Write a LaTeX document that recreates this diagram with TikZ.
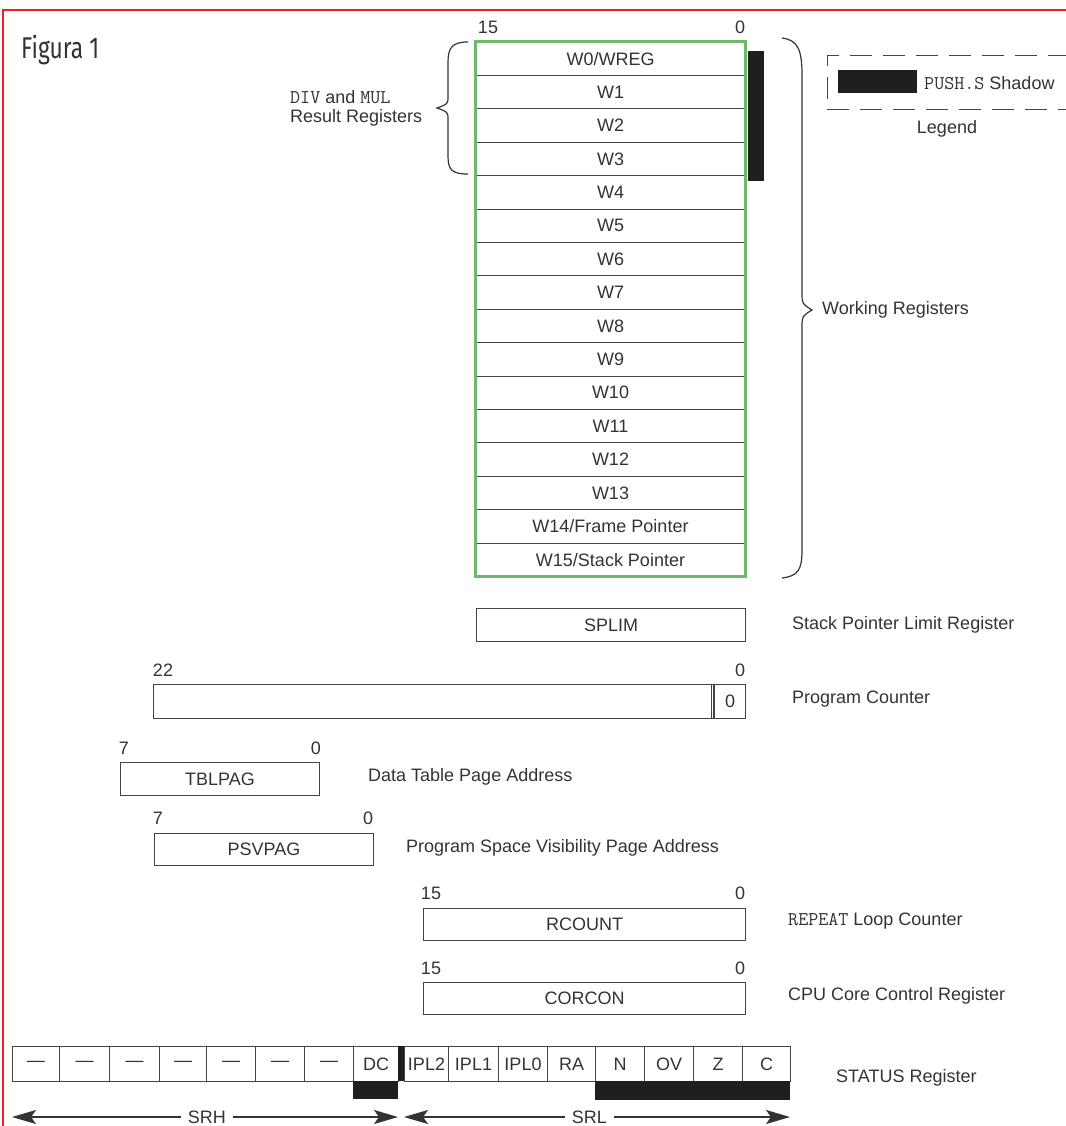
\documentclass[tikz,border=0pt]{standalone}
\usepackage{fontspec}
\usepackage{graphicx}
\setmainfont{Liberation Sans}
\newfontfamily\monof{Latin Modern Mono}
\newfontfamily\figf{Fira Sans}
\usetikzlibrary{arrows.meta}
\definecolor{ink}{HTML}{333333}
\definecolor{lineink}{HTML}{444444}
\definecolor{framered}{HTML}{E8232A}
\definecolor{wgreen}{HTML}{6DB86D}
\newcommand{\mtxt}[1]{{\monof\fontsize{19.5}{20}\selectfont #1}}
\begin{document}
\begin{tikzpicture}[x=1pt,y=-1pt,
  font=\fontsize{18}{20}\selectfont, text=ink,
  regbox/.style={draw=lineink, line width=1.1pt, minimum height=33pt, inner sep=0pt, anchor=north west},
  wrow/.style={draw=lineink, line width=1pt, minimum width=269pt, minimum height=33.4pt, inner sep=0pt},
  cell/.style={draw=lineink, line width=1pt, minimum height=35pt, inner sep=0pt, anchor=north west},
  num/.style={inner sep=0pt},
  lbl/.style={anchor=west, inner sep=0pt},
  arr/.style={line width=1.1pt, draw=ink, {Stealth[length=24pt,width=14pt,inset=5pt]}-{Stealth[length=24pt,width=14pt,inset=5pt]}},
  brace/.style={line width=1.2pt, draw=ink}
]
\useasboundingbox (0,0) rectangle (1065,1126);
% red frame
\draw[framered, line width=2.5pt] (3,1126) -- (3,10) -- (1066,10);
% title
\node[lbl] (title) at (21,50) {\figf\fontsize{30}{30}\selectfont\scalebox{0.76}[1]{Figura 1}};

% working registers
\foreach \t [count=\i from 0] in {W0/WREG,W1,W2,W3,W4,W5,W6,W7,W8,W9,W10,W11,W12,W13,W14/Frame Pointer,W15/Stack Pointer}{
  \node[wrow] (w\i) at (610.5,{42+33.4*(\i+0.5)}) {\t};
}
\draw[wgreen, line width=3pt] (w0.north west) rectangle (w15.south east);
\node[num] (wb15) at (488,27) {15};
\node[num] (wb0) at (740,27) {0};
% shadow bar
\fill[black!88] (748,51) rectangle (764,181);

% left brace
\draw[brace] (468,42) .. controls (452,42) and (448,48) .. (448,62) -- (448,96)
  .. controls (448,104) .. (437,108) .. controls (448,112) .. (448,120) -- (448,156)
  .. controls (448,170) and (452,174) .. (468,174);
\node[lbl, align=left] (divmul) at (290,108) {\mtxt{DIV} and \mtxt{MUL}\\[-1pt]Result Registers};

% right brace
\draw[brace] (782,38) .. controls (798,40) and (802,50) .. (802,75) -- (802,292)
  .. controls (802,304) .. (812,310) .. controls (802,316) .. (802,328) -- (802,550)
  .. controls (802,570) and (798,576) .. (782,578);
\node[lbl] (working) at (822,310) {Working Registers};

% legend
\draw[lineink, line width=1pt, dash pattern=on 22pt off 11pt] (1070,56) -- (827,56) -- (827,110) -- (1070,110);
\fill[black!88] (838,70) rectangle (917,93);
\node[lbl] (legtxt) at (924,83) {\mtxt{PUSH.S} Shadow};
\node[num] (legend) at (947,129) {Legend};

% SPLIM
\node[regbox, minimum width=269pt] (splim) at (476,608) {SPLIM};
\node[lbl] (splimt) at (792,625) {Stack Pointer Limit Register};

% Program counter
\node[regbox, minimum width=560pt, minimum height=34pt] (pc) at (153,684) {};
\node[regbox, minimum width=31pt, minimum height=34pt] (pc0) at (714,684) {0};
\draw[lineink, line width=1pt] (711.5,684) -- (711.5,718);
\node[num] (pcb22) at (163,670) {22};
\node[num] (pcb0) at (740,670) {0};
\node[lbl] (pct) at (792,699) {Program Counter};

% TBLPAG
\node[regbox, minimum width=199pt] (tbl) at (120,762) {TBLPAG};
\node[num] (tblb7) at (124,748) {7};
\node[num] (tblb0) at (316,748) {0};
\node[lbl] (tblt) at (368,777) {Data Table Page Address};

% PSVPAG
\node[regbox, minimum width=219pt, minimum height=32pt] (psv) at (154,833) {PSVPAG};
\node[num] (psvb7) at (158,818) {7};
\node[num] (psvb0) at (368,818) {0};
\node[lbl] (psvt) at (406,848) {Program Space Visibility Page Address};

% RCOUNT
\node[regbox, minimum width=322pt, minimum height=32pt] (rc) at (423,908) {RCOUNT};
\node[num] (rcb15) at (431,893) {15};
\node[num] (rcb0) at (740,893) {0};
\node[lbl] (rct) at (788,921) {\mtxt{REPEAT} Loop Counter};

% CORCON
\node[regbox, minimum width=322pt, minimum height=32pt] (cc) at (423,982) {CORCON};
\node[num] (ccb15) at (431,968) {15};
\node[num] (ccb0) at (740,968) {0};
\node[lbl] (cct) at (788,996) {CPU Core Control Register};

% STATUS register
\foreach \a/\b/\t [count=\i] in {12/59/—,59/109/—,109/159/—,159/206/—,206/255/—,255/304/—,304/353/—,353/398/DC,404/448/IPL2,448/498/IPL1,498/547/IPL0,547/595/RA,595/644/N,644/693/OV,693/742/Z,742/790/C}{
  \node[cell, minimum width={(\b-\a)*1pt}] (s\i) at (\a,1046) {\t};
}
\fill[black!88] (398,1046) rectangle (404,1081);
\fill[black!88] (353,1081) rectangle (398,1099);
\fill[black!88] (595,1081) rectangle (790,1100);
\node[lbl] (statt) at (836,1078) {STATUS Register};

% SRH / SRL arrows
\coordinate (srhL) at (12,1117);
\coordinate (srhR) at (398,1117);
\coordinate (srlL) at (404,1117);
\coordinate (srlR) at (790,1117);
\draw[arr] (srhL) -- (srhR) node[pos=0.505, fill=white, inner sep=7pt] (srh) {SRH};
\draw[arr] (srlL) -- (srlR) node[pos=0.48, fill=white, inner sep=7pt] (srl) {SRL};
\end{tikzpicture}
\end{document}
